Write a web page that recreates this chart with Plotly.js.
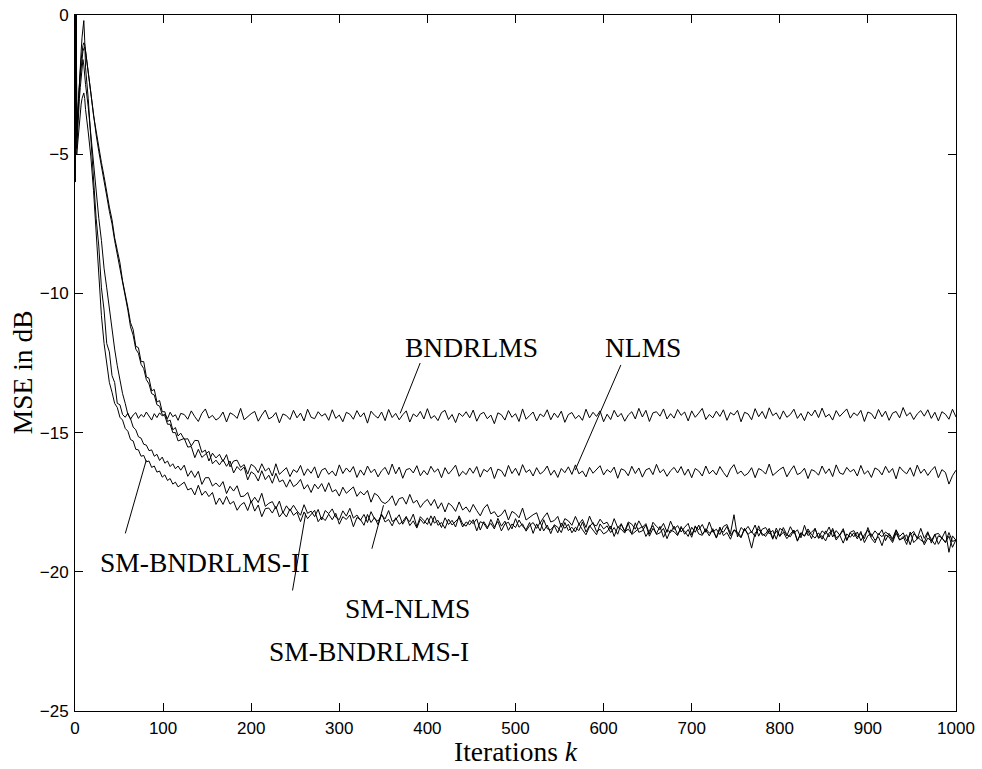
<!DOCTYPE html>
<html>
<head>
<meta charset="utf-8">
<script src="https://cdn.plot.ly/plotly-3.0.1.min.js"></script>
<style>
  html, body { margin: 0; padding: 0; background: #fff; }
  #chart { width: 982px; height: 769px; }
</style>
</head>
<body>
<div id="chart"></div>
<script>
// ---- iteration index grid (k) ----
const itersEarly = [0,1,2,3,4,5,6,7,8,9,10,11,12];
const itersMid = [15,18,21,24,27,30,33,36,39,42,45,48,51,54,57,60,63,66,69,72,75,78,81,84,87,90,93,96,99,102,105,108,111,114,117,120];
const itersLate = [];
for (let k = 124; k <= 1000; k += 4) itersLate.push(k);   // 220 indices
const iterations = itersEarly.concat(itersMid, itersLate);

const seriesNames = ["BNDRLMS", "NLMS", "SM-NLMS", "SM-BNDRLMS-I", "SM-BNDRLMS-II"];

// ---- MSE in dB ----
const bndrlms = [
  -6.0,3.5,-4.3,-3.6,-3.0,-2.4,-1.8,-1.3,-0.8,-0.5,-0.2,-0.9,-1.9,
  -3.0,-4.5,-5.6,-7.3,-8.3,-9.8,-10.6,-11.8,-12.1,-12.95,
  -13.2,-13.95,-14.0,-14.35,-14.45,-14.3,-14.52,-14.37,-14.28,-14.49,
  -14.35,-14.44,-14.26,-14.41,-14.55,-14.32,-14.46,-14.29,-14.40,-14.34,
  -14.50,-14.27,-14.43,-14.36,-14.56,-14.31,
  -14.35,-14.52,-14.22,-14.43,-14.60,-14.31,-14.15,-14.48,-14.38,-14.55,
  -14.46,-14.26,-14.62,-14.29,-14.36,-14.49,-14.13,-14.54,-14.42,-14.32,
  -14.24,-14.59,-14.37,-14.19,-14.51,-14.44,-14.28,-14.65,-14.33,-14.39,
  -14.53,-14.20,-14.47,-14.30,-14.58,-14.16,-14.45,-14.50,-14.25,-14.41,
  -14.32,-14.56,-14.18,-14.49,-14.37,-14.61,-14.27,-14.34,-14.52,-14.21,
  -14.44,-14.29,-14.66,-14.23,-14.38,-14.48,-14.26,-14.57,-14.17,-14.46,
  -14.31,-14.54,-14.36,-14.22,-14.62,-14.33,-14.43,-14.24,-14.51,-14.14,
  -14.49,-14.39,-14.57,-14.28,-14.20,-14.53,-14.35,-14.64,-14.30,-14.42,
  -14.25,-14.47,-14.19,-14.59,-14.34,-14.27,-14.50,-14.37,-14.68,-14.29,
  -14.36,-14.55,-14.21,-14.45,-14.32,-14.60,-14.15,-14.52,-14.39,-14.26,
  -14.58,-14.33,-14.43,-14.18,-14.54,-14.30,-14.46,-14.23,-14.63,-14.35,
  -14.28,-14.50,-14.38,-14.56,-14.16,-14.47,-14.27,-14.42,-14.22,-14.61,
  -14.34,-14.53,-14.20,-14.44,-14.31,-14.59,-14.37,-14.25,-14.51,-14.13,
  -14.44,-14.20,-14.60,-14.29,-14.25,-14.41,-14.15,-14.51,-14.32,-14.48,
  -14.17,-14.38,-14.26,-14.58,-14.22,-14.45,-14.30,-14.13,-14.53,-14.35,
  -14.47,-14.23,-14.42,-14.18,-14.56,-14.28,-14.37,-14.20,-14.61,-14.27,
  -14.33,-14.54,-14.14,-14.43,-14.24,-14.50,-14.11,-14.39,-14.29,-14.52,
  -14.22,-14.45,-14.35,-14.16,-14.49,-14.31,-14.57,-14.25,-14.40,-14.19,
  -14.46,-14.12,-14.44,-14.34,-14.55,-14.21,-14.42,-14.27,-14.15,-14.48,
  -14.29,-14.39,-14.20,-14.60,-14.26,-14.32,-14.51,-14.17,-14.43,-14.23,
  -14.56,-14.30,-14.24,-14.47,-14.10,-14.40,-14.28,-14.53,-14.33,-14.21,
  -14.41,-14.18,-14.49,-14.27,-14.58,-14.25,-14.34,-14.52,-14.16,-14.44
];

const nlms = [
  -6.0,4.0,-4.0,-3.4,-2.9,-2.4,-2.0,-1.6,-1.3,-1.1,-1.0,-1.05,-1.3,
  -2.0,-2.8,-3.6,-4.2,-4.8,-5.3,-5.8,-6.4,-6.9,-7.35,
  -8.0,-8.45,-8.9,-9.55,-10.0,-10.5,-11.05,-11.3,-11.9,-11.95,
  -12.45,-12.45,-13.0,-13.05,-13.5,-13.45,-13.9,-13.85,-14.25,-14.25,
  -14.6,-14.55,-14.9,-14.82,-15.12,-15.02,
  -15.24,-15.22,-15.48,-15.28,-15.29,-15.71,-15.63,-16.02,-15.74,-15.91,
  -15.78,-16.04,-15.79,-16.23,-16.02,-15.99,-16.25,-16.15,-16.49,-16.14,
  -16.23,-16.44,-16.12,-16.38,-16.27,-16.56,-16.12,-16.50,-16.38,-16.26,
  -16.58,-16.33,-16.43,-16.18,-16.54,-16.30,-16.46,-16.23,-16.63,-16.35,
  -16.28,-16.50,-16.38,-16.56,-16.16,-16.47,-16.27,-16.42,-16.22,-16.61,
  -16.34,-16.53,-16.20,-16.44,-16.31,-16.59,-16.37,-16.25,-16.51,-16.13,
  -16.48,-16.24,-16.64,-16.33,-16.29,-16.45,-16.19,-16.55,-16.36,-16.52,
  -16.21,-16.42,-16.30,-16.62,-16.26,-16.49,-16.34,-16.17,-16.57,-16.39,
  -16.51,-16.27,-16.46,-16.22,-16.60,-16.32,-16.41,-16.24,-16.65,-16.31,
  -16.37,-16.58,-16.18,-16.47,-16.28,-16.54,-16.15,-16.43,-16.33,-16.56,
  -16.26,-16.49,-16.39,-16.20,-16.53,-16.35,-16.61,-16.29,-16.44,-16.23,
  -16.50,-16.16,-16.48,-16.38,-16.59,-16.25,-16.46,-16.31,-16.19,-16.52,
  -16.33,-16.43,-16.24,-16.64,-16.30,-16.36,-16.55,-16.21,-16.47,-16.27,
  -16.60,-16.34,-16.28,-16.51,-16.14,-16.44,-16.32,-16.57,-16.37,-16.25,
  -16.45,-16.22,-16.53,-16.31,-16.62,-16.29,-16.38,-16.56,-16.20,-16.48,
  -16.35,-16.52,-16.22,-16.43,-16.60,-16.31,-16.15,-16.48,-16.38,-16.55,
  -16.46,-16.26,-16.62,-16.29,-16.36,-16.49,-16.13,-16.54,-16.42,-16.32,
  -16.24,-16.59,-16.37,-16.19,-16.51,-16.44,-16.28,-16.65,-16.33,-16.39,
  -16.53,-16.20,-16.47,-16.30,-16.58,-16.16,-16.45,-16.50,-16.25,-16.41,
  -16.32,-16.56,-16.18,-16.49,-16.37,-16.61,-16.27,-16.34,-16.52,-16.21,
  -16.44,-16.29,-16.66,-16.23,-16.38,-16.48,-16.26,-16.57,-16.17,-16.46,
  -16.31,-16.54,-16.36,-16.22,-16.62,-16.33,-16.43,-16.85,-16.55,-16.35
];

const smNlms = [
  -6.0,3.0,-4.4,-3.7,-3.1,-2.6,-2.2,-1.8,-1.5,-1.3,-1.2,-1.15,-1.3,
  -2.1,-2.9,-3.7,-4.3,-4.9,-5.4,-5.95,-6.5,-7.05,-7.5,
  -8.1,-8.6,-9.05,-9.65,-10.15,-10.6,-11.2,-11.5,-12.0,-12.15,
  -12.55,-12.7,-13.1,-13.25,-13.6,-13.65,-14.0,-14.05,-14.35,-14.4,
  -14.7,-14.7,-15.0,-15.0,-15.3,-15.25,
  -15.21,-15.52,-15.50,-15.90,-15.60,-15.89,-15.79,-15.67,-16.12,-15.99,
  -16.16,-15.97,-16.21,-16.02,-16.45,-16.22,-16.36,-16.24,-16.70,-16.41,
  -16.50,-16.74,-16.37,-16.69,-16.53,-16.82,-16.46,-16.77,-16.70,-16.96,
  -16.69,-16.94,-16.85,-16.68,-17.03,-16.87,-17.15,-16.85,-17.02,-16.83,
  -17.12,-16.80,-17.13,-17.05,-17.28,-16.96,-17.18,-17.05,-16.95,-17.29,
  -17.12,-17.24,-17.08,-17.50,-17.18,-17.27,-17.48,-17.55,-17.45,-17.27,
  -17.62,-17.37,-17.33,-17.57,-17.22,-17.53,-17.43,-17.69,-17.51,-17.40,
  -17.62,-17.40,-17.73,-17.52,-17.85,-17.53,-17.64,-17.83,-17.49,-17.78,
  -17.67,-17.86,-17.58,-17.80,-17.99,-17.72,-17.58,-17.92,-17.84,-18.03,
  -17.95,-17.77,-18.14,-17.83,-17.91,-18.06,-17.71,-18.14,-18.03,-17.95,
  -17.88,-18.25,-18.04,-17.88,-18.21,-18.16,-18.01,-18.40,-18.09,-18.17,
  -18.33,-18.01,-18.29,-18.12,-18.41,-18.00,-18.30,-18.35,-18.11,-18.28,
  -18.22,-18.47,-18.09,-18.41,-18.30,-18.54,-18.21,-18.29,-18.47,-18.17,
  -18.41,-18.27,-18.64,-18.22,-18.37,-18.48,-18.26,-18.58,-18.18,-18.48,
  -18.34,-18.57,-18.40,-18.26,-18.67,-18.38,-18.49,-18.30,-18.58,-18.21,
  -18.57,-18.47,-18.66,-18.37,-18.30,-18.63,-17.95,-18.75,-18.41,-18.53,
  -18.37,-18.59,-18.32,-18.72,-18.47,-18.41,-18.64,-18.51,-18.83,-18.44,
  -18.52,-18.71,-18.38,-18.62,-18.49,-18.78,-18.33,-18.70,-18.58,-18.45,
  -18.78,-18.53,-18.64,-18.39,-18.75,-18.52,-18.68,-18.45,-18.86,-18.58,
  -18.52,-18.74,-18.63,-18.81,-18.41,-18.73,-18.53,-18.68,-18.49,-18.88,
  -18.62,-18.81,-18.49,-18.73,-18.60,-18.89,-18.67,-18.55,-18.82,-18.44,
  -18.80,-18.56,-18.97,-18.66,-18.62,-18.79,-18.53,-19.30,-18.71,-18.87
];

const smBndrlmsI = [
  -6.0,2.8,-4.8,-4.1,-3.5,-3.0,-2.6,-2.2,-1.8,-1.6,-1.8,-2.2,-2.5,
  -3.3,-4.3,-5.3,-6.4,-7.3,-8.1,-9.1,-9.8,-10.6,-11.3,
  -12.0,-12.6,-13.1,-13.6,-13.95,-14.35,-14.5,-14.8,-14.9,-15.15,
  -15.2,-15.42,-15.45,-15.65,-15.62,-15.85,-15.78,-16.0,-15.88,-16.1,
  -16.02,-16.22,-16.12,-16.3,-16.2,-16.35,
  -16.17,-16.57,-16.37,-16.61,-16.39,-16.86,-16.62,-16.62,-16.92,-16.81,
  -16.95,-16.76,-17.19,-16.93,-17.10,-16.91,-17.30,-17.28,-17.15,-17.51,
  -17.32,-17.51,-17.18,-17.65,-17.54,-17.48,-17.74,-17.46,-17.89,-17.63,
  -17.81,-17.61,-17.81,-17.97,-17.59,-17.90,-17.82,-18.02,-17.76,-18.14,
  -17.80,-17.91,-17.74,-18.04,-18.13,-17.81,-18.00,-17.72,-18.07,-17.96,
  -18.15,-17.94,-18.23,-17.84,-18.10,-18.18,-17.96,-18.10,-17.80,-18.19,
  -18.13,-17.95,-18.29,-18.06,-18.20,-17.93,-18.38,-18.02,-18.16,-18.30,
  -17.99,-18.25,-18.15,-18.41,-18.06,-18.30,-18.15,-18.39,-17.99,-18.28,
  -18.36,-18.15,-18.27,-18.10,-18.50,-18.20,-18.40,-18.26,-18.46,-18.08,
  -18.36,-18.18,-18.51,-18.28,-18.41,-18.14,-18.36,-18.49,-18.23,-18.62,
  -18.28,-18.53,-18.13,-18.45,-18.49,-18.34,-18.60,-18.25,-18.44,-18.29,
  -18.60,-18.40,-18.52,-18.21,-18.57,-18.34,-18.50,-18.67,-18.28,-18.46,
  -18.35,-18.59,-18.41,-18.65,-18.27,-18.56,-18.47,-18.64,-18.24,-18.58,
  -18.53,-18.32,-18.72,-18.44,-18.63,-18.37,-18.76,-18.49,-18.59,-18.36,
  -18.66,-18.43,-18.54,-18.73,-18.40,-18.58,-18.32,-18.65,-18.50,-18.71,
  -18.45,-18.79,-18.47,-18.58,-18.37,-18.71,-18.50,-18.66,-18.78,-18.45,
  -18.65,-18.55,-18.74,-18.35,-18.69,-18.63,-18.44,-18.79,-18.53,-18.73,
  -18.41,-18.67,-18.74,-18.51,-18.88,-18.59,-18.71,-18.46,-18.67,-18.79,
  -18.60,-18.83,-18.53,-18.75,-18.44,-18.78,-18.69,-18.51,-18.88,-18.60,
  -18.74,-18.57,-18.88,-18.67,-18.50,-18.80,-18.96,-18.63,-18.74,-18.57,
  -18.67,-18.88,-18.52,-18.86,-18.79,-18.67,-19.03,-18.63,-18.75,-18.86,
  -18.95,-18.61,-18.83,-19.02,-18.71,-18.78,-18.95,-18.59,-18.91,-18.86
];

const smBndrlmsII = [
  -6.0,2.2,-5.0,-4.6,-4.2,-3.8,-3.5,-3.2,-3.0,-2.9,-2.8,-3.0,-3.4,
  -4.2,-5.1,-6.3,-7.9,-9.5,-10.8,-11.8,-12.5,-13.2,-13.55,
  -13.95,-14.1,-14.45,-14.55,-14.85,-14.95,-15.25,-15.3,-15.6,-15.62,
  -15.85,-15.82,-16.05,-16.02,-16.25,-16.2,-16.42,-16.38,-16.6,-16.52,
  -16.72,-16.65,-16.85,-16.78,-16.95,-16.88,
  -16.78,-17.06,-17.00,-17.24,-16.89,-17.25,-17.10,-17.30,-17.15,-17.58,
  -17.35,-17.58,-17.29,-17.57,-17.47,-17.79,-17.60,-17.51,-17.80,-17.45,
  -17.82,-17.60,-18.02,-17.73,-17.71,-17.89,-17.65,-18.03,-17.86,-18.03,
  -17.74,-17.97,-17.86,-18.20,-17.85,-18.09,-17.95,-17.79,-18.20,-18.03,
  -18.16,-17.93,-18.13,-17.90,-18.29,-18.02,-18.12,-17.96,-18.38,-18.05,
  -18.12,-18.33,-17.94,-18.23,-18.05,-18.31,-17.93,-18.21,-18.12,-18.35,
  -18.06,-18.29,-18.20,-18.01,-18.34,-18.17,-18.43,-18.11,-18.27,-18.06,
  -18.34,-18.00,-18.33,-18.23,-18.44,-18.11,-18.32,-18.17,-18.06,-18.39,
  -18.21,-18.31,-18.13,-18.53,-18.20,-18.26,-18.46,-18.12,-18.39,-18.19,
  -18.53,-18.28,-18.22,-18.46,-18.09,-18.40,-18.28,-18.54,-18.34,-18.23,
  -18.44,-18.22,-18.53,-18.32,-18.63,-18.31,-18.40,-18.59,-18.23,-18.52,
  -18.40,-18.57,-18.28,-18.49,-18.67,-18.38,-18.23,-18.56,-18.47,-18.64,
  -18.56,-18.36,-18.73,-18.40,-18.47,-18.61,-18.25,-18.66,-18.55,-18.45,
  -18.38,-18.73,-18.52,-18.34,-18.66,-18.60,-18.44,-18.81,-18.50,-18.56,
  -18.70,-18.37,-18.65,-18.48,-18.76,-18.35,-18.64,-18.69,-18.45,-18.61,
  -18.52,-18.77,-18.39,-18.70,-18.59,-18.83,-18.49,-18.57,-18.75,-18.44,
  -18.68,-19.15,-18.60,-18.48,-18.63,-18.73,-18.51,-18.83,-18.43,-18.72,
  -18.58,-18.81,-18.64,-18.50,-18.90,-18.62,-18.72,-18.53,-18.81,-18.44,
  -18.80,-18.70,-18.89,-18.60,-18.52,-18.86,-18.68,-18.97,-18.64,-18.76,
  -18.60,-18.82,-18.55,-18.95,-18.70,-18.64,-18.87,-18.74,-19.06,-18.67,
  -18.75,-18.95,-18.61,-18.86,-18.73,-19.02,-18.57,-18.95,-18.82,-18.70,
  -19.03,-18.79,-18.89,-18.65,-19.01,-18.78,-18.94,-18.72,-19.12,-18.85
];

const seriesValues = [bndrlms, nlms, smNlms, smBndrlmsI, smBndrlmsII];

const xTickValues = [0,100,200,300,400,500,600,700,800,900,1000];
const yTickValues = [0,-5,-10,-15,-20,-25];

// ---- build the chart ----
const serif = "Liberation Serif, Times New Roman, serif";
const sans = "Liberation Sans, Arial, Helvetica, sans-serif";

const traces = seriesValues.map((vals, i) => {
  const n = Math.min(vals.length, iterations.length);
  return {
    x: iterations.slice(0, n),
    y: vals.slice(0, n),
    type: "scatter",
    mode: "lines",
    name: seriesNames[i],
    line: { color: "#000", width: 1 },
    hoverinfo: "skip"
  };
});

const textFont = { family: serif, size: 27.5, color: "#000" };

const labelAnn = [
  { text: "BNDRLMS", x: 449.7, y: -11.96 },
  { text: "NLMS", x: 644.3, y: -11.96 },
  { text: "SM-BNDRLMS-II", x: 146.8, y: -19.66 },
  { text: "SM-NLMS", x: 377.6, y: -21.31 },
  { text: "SM-BNDRLMS-I", x: 334, y: -22.86 }
].map(a => ({
  text: a.text, x: a.x, y: a.y, xref: "x", yref: "y",
  showarrow: false, xanchor: "center", yanchor: "middle",
  font: textFont
}));

// axis titles placed as paper annotations
labelAnn.push({
  text: "Iterations <i>k</i>", xref: "paper", yref: "paper", x: 0.5, y: -0.0575,
  showarrow: false, xanchor: "center", yanchor: "middle", font: textFont
});
labelAnn.push({
  text: "MSE in dB", xref: "paper", yref: "paper", x: -0.060, y: 0.487,
  textangle: -90, showarrow: false, xanchor: "center", yanchor: "middle", font: textFont
});

const pointers = [
  [391.8, -12.5, 369.1, -14.31],
  [619.6, -12.57, 567.7, -16.35],
  [57.1, -18.62, 80.9, -15.99],
  [337.0, -19.17, 350.2, -17.61],
  [246.9, -20.67, 261.9, -17.9]
].map(p => ({
  type: "line", xref: "x", yref: "y",
  x0: p[0], y0: p[1], x1: p[2], y1: p[3],
  line: { color: "#000", width: 1 }
}));

const axisCommon = {
  showgrid: false, zeroline: false,
  showline: true, linecolor: "#000", linewidth: 1,
  mirror: "ticks", ticks: "inside", ticklen: 8, tickwidth: 1, tickcolor: "#000",
  tickfont: { family: sans, size: 17, color: "#000" },
  automargin: false
};

const layout = {
  width: 982, height: 769,
  margin: { l: 75, r: 26, t: 15, b: 58 },
  paper_bgcolor: "#fff", plot_bgcolor: "#fff",
  showlegend: false,
  xaxis: Object.assign({}, axisCommon, {
    range: [0, 1000], tickvals: xTickValues, ticktext: xTickValues.map(String),
    ticklabelstandoff: 2
  }),
  yaxis: Object.assign({}, axisCommon, {
    range: [-25, 0], tickvals: yTickValues,
    ticktext: yTickValues.map(v => v < 0 ? "\u2212" + Math.abs(v) : String(v)),
    ticklabelstandoff: 2
  }),
  annotations: labelAnn,
  shapes: pointers
};

Plotly.newPlot("chart", traces, layout, { displayModeBar: false, staticPlot: true });
</script>
</body>
</html>
